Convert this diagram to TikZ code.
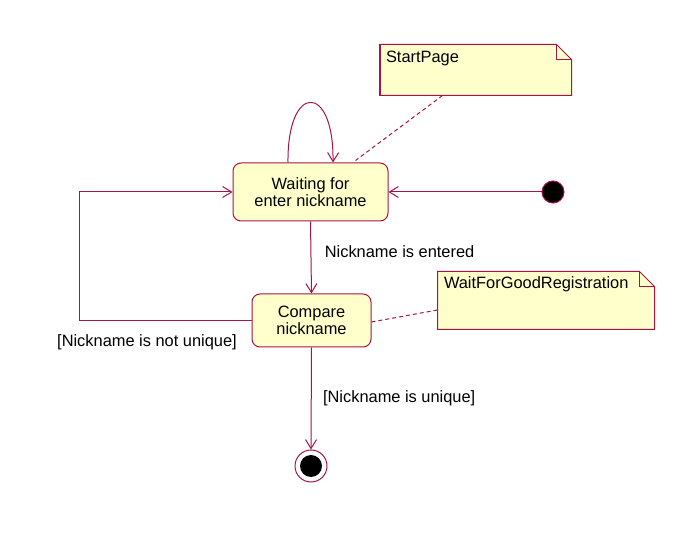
\documentclass[tikz,border=0pt]{standalone}
\usepackage{fontspec}
\setmainfont{Liberation Sans}
\usetikzlibrary{arrows.meta}
\definecolor{umlred}{RGB}{165,20,70}
\definecolor{umlfill}{RGB}{255,255,204}
\begin{document}
\begin{tikzpicture}[x=1pt, y=-1pt, font=\fontsize{16.4}{17}\selectfont, line width=1pt]
\tikzset{state/.style={rectangle, rounded corners=8pt, draw=umlred, fill=umlfill, align=center, inner sep=2pt}}
\tikzset{notebox/.style={rectangle, inner sep=0pt}}
\tikzset{trans/.style={draw=umlred, -{Straight Barb[length=9pt, width=11pt]}}}
\tikzset{link/.style={draw=umlred, dash pattern=on 4pt off 3pt}}
\useasboundingbox (0,0) rectangle (699,553);

% states
\node[state, minimum width=155pt, minimum height=58pt] (wait) at (310.5,192) {Waiting for\\enter nickname};
\node[state, minimum width=119pt, minimum height=53pt] (cmp) at (311.5,320.5) {Compare\\nickname};
\node[circle, draw=umlred, fill=black, minimum size=22pt, inner sep=0pt] (init) at (553,192) {};
\node[circle, draw=umlred, fill=white, minimum size=32pt, inner sep=0pt] (final) at (311,466) {};
\node[circle, fill=black, minimum size=22pt, inner sep=0pt] at (final) {};

% notes
\node[notebox, minimum width=191pt, minimum height=50pt] (sp) at (475.5,70) {};
\draw[draw=umlred, fill=umlfill] (sp.north west) -- ([xshift=-15pt]sp.north east) -- ([yshift=-15pt]sp.north east)
  -- (sp.south east) -- (sp.south west) -- cycle;
\draw[umlred] ([xshift=-15pt]sp.north east) |- ([yshift=-15pt]sp.north east);
\draw[umlred, line width=2pt] (sp.north west) -- (sp.south west);
\node[anchor=north west, inner sep=0pt] at ([xshift=6pt, yshift=-6pt]sp.north west) {StartPage};

\node[notebox, minimum width=216pt, minimum height=57pt] (wfg) at (546,300.5) {};
\draw[draw=umlred, fill=umlfill] (wfg.north west) -- ([xshift=-15pt]wfg.north east) -- ([yshift=-15pt]wfg.north east)
  -- (wfg.south east) -- (wfg.south west) -- cycle;
\draw[umlred] ([xshift=-15pt]wfg.north east) |- ([yshift=-15pt]wfg.north east);
\node[anchor=north west, inner sep=0pt] at ([xshift=6pt, yshift=-5pt]wfg.north west) {WaitForGoodRegistration};

% transitions
\draw[trans] ([xshift=-22.5pt]wait.north) .. controls ++(-1,-80) and ([xshift=23.5pt, yshift=80pt]wait.north) .. ([xshift=22.5pt]wait.north);
\draw[trans] (init) -- (wait.east);
\draw[trans] (wait.south) -- node[right, xshift=10pt, yshift=6pt] {Nickname is entered} (cmp.north);
\draw[trans] (cmp.west) -- ++(-172,0) |- (wait.west);
\node (nu) at (147,342) {[Nickname is not unique]};
\draw[trans] (cmp.south) -- node[right, xshift=8pt, yshift=0pt] {[Nickname is unique]} (final.north);

% note links
\draw[link] ([xshift=-33pt]sp.south) -- ([xshift=45pt, yshift=2pt]wait.north);
\draw[link] ([yshift=-1.5pt]cmp.east) -- ([yshift=-9.5pt]wfg.west);
\end{tikzpicture}
\end{document}
